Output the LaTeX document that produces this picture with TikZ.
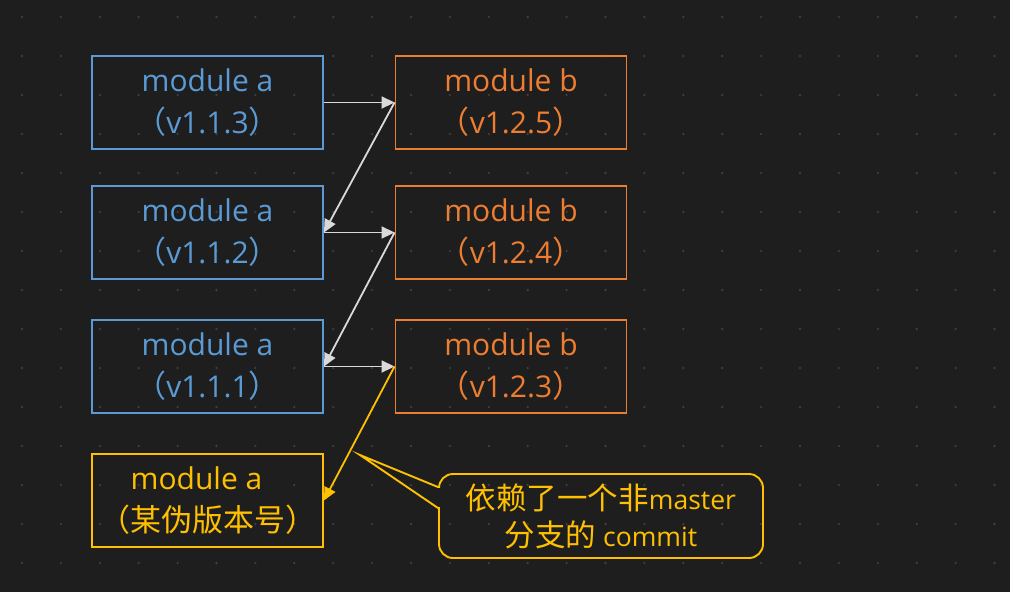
\documentclass[tikz,border=0pt]{standalone}
\usepackage{fontspec}
\setmainfont{Open Sans}
\newfontfamily\cjkf{Noto Sans CJK SC}
\newcommand{\cj}[1]{{\cjkf\fontsize{31}{42}\selectfont #1}}
\newcommand{\cn}[1]{{\cjkf\fontsize{30.5}{37}\selectfont #1}}
\usetikzlibrary{arrows.meta,calc}
\definecolor{bg}{HTML}{1E1E1E}
\definecolor{dotc}{HTML}{3E3E3E}
\definecolor{ablue}{HTML}{5B9BD5}
\definecolor{borange}{HTML}{ED7D31}
\definecolor{cyellow}{HTML}{FFC000}
\definecolor{arr}{HTML}{D9D9D9}
\begin{document}
\begin{tikzpicture}[x=1pt,y=-1pt,
  box/.style={draw, line width=1.9pt, minimum width=231pt, minimum height=93pt,
    inner sep=0pt, align=center, font=\fontsize{30}{42}\selectfont},
  boxa/.style={box, draw=ablue, text=ablue},
  boxb/.style={box, draw=borange, text=borange},
  boxy/.style={box, draw=cyellow, text=cyellow},
  conn/.style={draw=arr, line width=1.8pt, -{Triangle[length=13pt,width=12pt]}},
  connY/.style={draw=cyellow, line width=1.8pt, -{Triangle[length=13pt,width=12pt]}},
  notebox/.style={draw=cyellow, text=cyellow, line width=1.9pt, rounded corners=14pt,
    minimum width=324pt, minimum height=84pt, inner sep=0pt, align=center,
    font=\fontsize{26.5}{37}\selectfont}
]
\fill[bg] (0,0) rectangle (1010,592);
\useasboundingbox (0,0) rectangle (1010,592);
\foreach \i in {0,...,25}
  \foreach \j in {0,...,14}
    \fill[dotc] (22+38.9*\i, 17+39*\j) circle (1.3pt);

\node[boxa] (a1) at (207.5,102.5) {module a\\\cj{（}v1.1.3\cj{）}};
\node[boxb] (b1) at (511,102.5) {module b\\\cj{（}v1.2.5\cj{）}};
\node[boxa] (a2) at (207.5,232.5) {module a\\\cj{（}v1.1.2\cj{）}};
\node[boxb] (b2) at (511,232.5) {module b\\\cj{（}v1.2.4\cj{）}};
\node[boxa] (a3) at (207.5,366.5) {module a\\\cj{（}v1.1.1\cj{）}};
\node[boxb] (b3) at (511,366.5) {module b\\\cj{（}v1.2.3\cj{）}};
\node[boxy] (a4) at (207.5,500.5) {\hspace*{-22pt}module a\\\cj{（某伪版本号）}};

\draw[conn] (a1.east) -- (b1.west);
\draw[conn] (b1.west) -- (a2.east);
\draw[conn] (a2.east) -- (b2.west);
\draw[conn] (b2.west) -- (a3.east);
\draw[conn] (a3.east) -- (b3.west);
\draw[connY] (b3.west) -- (a4.east);

\node[notebox] (note) at (601,516) {\cn{依赖了一个非}master\\\cn{分支的} commit};
\coordinate (tip) at (360,455);
\fill[bg] ($(note.north west)+(-2.5,15)$) rectangle ($(note.north west)+(2.5,34)$);
\draw[cyellow, line width=1.9pt] ($(note.north west)+(0,14)$) -- (tip) -- ($(note.north west)+(0,35)$);
\end{tikzpicture}
\end{document}
